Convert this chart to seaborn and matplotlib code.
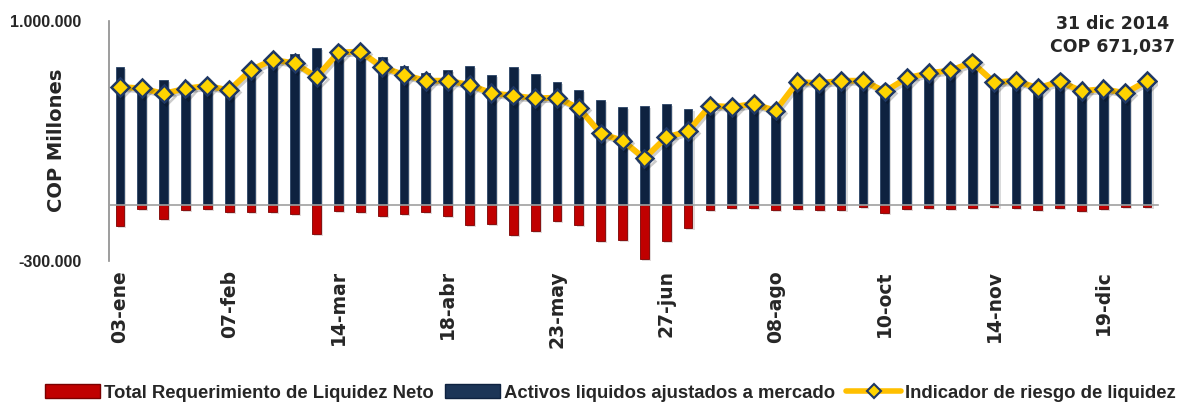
import numpy as np
import pandas as pd
import matplotlib
matplotlib.use("Agg")
import matplotlib.pyplot as plt
import matplotlib.patheffects as pe
from matplotlib.patches import Patch
from matplotlib.lines import Line2D
from matplotlib.ticker import FixedLocator
import seaborn as sns

# --- data (COP millones) ---
fechas = [
    "03-ene", "10-ene", "17-ene", "24-ene", "31-ene",
    "07-feb", "14-feb", "21-feb", "28-feb", "07-mar",
    "14-mar", "21-mar", "28-mar", "04-abr", "11-abr",
    "18-abr", "25-abr", "02-may", "09-may", "16-may",
    "23-may", "30-may", "06-jun", "13-jun", "20-jun",
    "27-jun", "04-jul", "11-jul", "18-jul", "25-jul",
    "08-ago", "22-ago", "05-sep", "19-sep", "03-oct",
    "10-oct", "17-oct", "24-oct", "31-oct", "07-nov",
    "14-nov", "21-nov", "28-nov", "05-dic", "12-dic",
    "19-dic", "26-dic", "31-dic",
]

activos = [
    749000, 645000, 677000, 636000, 654000, 627000, 761000, 812000, 821000, 850000,
    832000, 860000, 806000, 752000, 716000, 731000, 756000, 706000, 749000, 713000,
    668000, 623000, 572000, 531000, 536000, 549000, 522000, 545000, 540000, 555000,
    518000, 676000, 670000, 682000, 682000, 625000, 696000, 722000, 738000, 788000,
    674000, 682000, 642000, 678000, 626000, 637000, 615000, 671037,
]

requerimiento = [
    -112000, -22000, -72000, -27000, -22000, -34000, -36000, -34000, -49000, -157000,
    -31000, -34000, -58000, -49000, -36000, -58000, -108000, -103000, -162000, -139000,
    -86000, -108000, -193000, -189000, -292000, -193000, -124000, -25000, -14000, -13000,
    -25000, -22000, -25000, -27000, -9000, -40000, -22000, -14000, -22000, -16000,
    -7000, -13000, -27000, -16000, -31000, -18000, -9000, -7000,
]

indicador = [
    641000, 634000, 605000, 632000, 648000, 623000, 734000, 788000, 770000, 695000,
    828000, 833000, 749000, 707000, 675000, 675000, 653000, 608000, 594000, 580000,
    583000, 526000, 389000, 351000, 254000, 369000, 401000, 540000, 533000, 549000,
    513000, 668000, 662000, 675000, 675000, 617000, 689000, 716000, 731000, 774000,
    666000, 675000, 635000, 671000, 619000, 630000, 608000, 675000,
]

df = pd.DataFrame({
    "fecha": fechas,
    "activos": activos,
    "requerimiento": requerimiento,
    "indicador": indicador,
})
df["pos"] = np.arange(len(df))

sns.set_style("white")
plt.rcParams["font.family"] = ["DejaVu Sans"]

azul = "#0e2240"
rojo = "#c00000"
oro = "#ffc000"

fig = plt.figure(figsize=(11.92, 4.04), dpi=100)
ax = fig.add_axes([0.0914, 0.3547, 0.8801, 0.5941])

shadow = [pe.SimplePatchShadow(offset=(1.5, -1.5), alpha=0.15), pe.Normal()]

sns.barplot(data=df, x="fecha", y="activos", order=fechas, color=azul,
            width=0.4, saturation=1, edgecolor="#2b4466", linewidth=0.6, ax=ax)
sns.barplot(data=df, x="fecha", y="requerimiento", order=fechas, color=rojo,
            width=0.4, saturation=1, edgecolor="#7a0000", linewidth=0.6, ax=ax)
for p in ax.patches:
    p.set_path_effects(shadow)

sns.lineplot(data=df, x="pos", y="indicador", sort=False, color=oro, lw=4.2,
             marker="D", markersize=9, markerfacecolor="#ffd400",
             markeredgecolor="#1f3864", markeredgewidth=1.8, ax=ax, zorder=5,
             path_effects=[pe.SimpleLineShadow(offset=(1.5, -1.5), alpha=0.2), pe.Normal()])

ax.set_xlim(-0.5, len(df) - 0.5)
ax.set_ylim(-300000, 1000000)

# axes and ticks
for s in ["top", "right"]:
    ax.spines[s].set_visible(False)
ax.spines["left"].set_color("#8c8c8c")
ax.spines["left"].set_linewidth(1.2)
ax.spines["bottom"].set_position(("data", 0))
ax.spines["bottom"].set_color("#a0a0a0")
ax.spines["bottom"].set_linewidth(1.2)

ax.set_yticks([-300000, 1000000])
ax.set_yticklabels(["-300.000", "1.000.000"], fontsize=11.5, fontweight="bold",
                   family=["Liberation Sans", "DejaVu Sans"])
ax.tick_params(axis="y", direction="out", length=5, color="#8c8c8c", width=1.2, pad=15)

ax.xaxis.set_major_locator(FixedLocator(np.arange(-0.5, len(df), 3)))
ax.set_xticklabels([])
ax.tick_params(axis="x", direction="out", length=5, color="#a0a0a0", width=1.2)
ax.set_xlabel("")
ax.set_ylabel("")

fig.text(57 / 1192, 1 - 140 / 404, "COP Millones", rotation=90, ha="center", va="center",
         fontsize=14, fontweight="bold")

# date labels below the plot, every 5 weeks
trans = ax.get_xaxis_transform()
for i in range(0, len(df), 5):
    ax.text(df["pos"][i], -0.04, df["fecha"][i], transform=trans, rotation=90,
            ha="center", va="top", fontsize=13.5, fontweight="bold")

fig.text(1113 / 1192, 1 - 24 / 404, "31 dic 2014", ha="center", va="center",
         fontsize=12.5, fontweight="bold")
fig.text(1113 / 1192, 1 - 47 / 404, "COP 671,037", ha="center", va="center",
         fontsize=12.5, fontweight="bold")

handles = [
    Patch(facecolor=rojo, edgecolor="#7a0000"),
    Patch(facecolor="#1c3557", edgecolor="#0e2240"),
    Line2D([0], [0], color=oro, lw=4, marker="D", markersize=7,
           markerfacecolor="#ffd400", markeredgecolor="#1f3864", markeredgewidth=1.5),
]
labels = ["Total Requerimiento de Liquidez Neto",
          "Activos liquidos ajustados a mercado",
          "Indicador de riesgo de liquidez"]
fig.legend(handles, labels, loc="center", bbox_to_anchor=(0.512, 1 - 393 / 404), ncol=3,
           frameon=False, handlelength=3.0, handleheight=0.8, handletextpad=0.2,
           columnspacing=0.6, prop={"family": ["Liberation Sans", "DejaVu Sans"],
                                    "weight": "bold", "size": 13.3})

fig.savefig("out.png", dpi=100)
